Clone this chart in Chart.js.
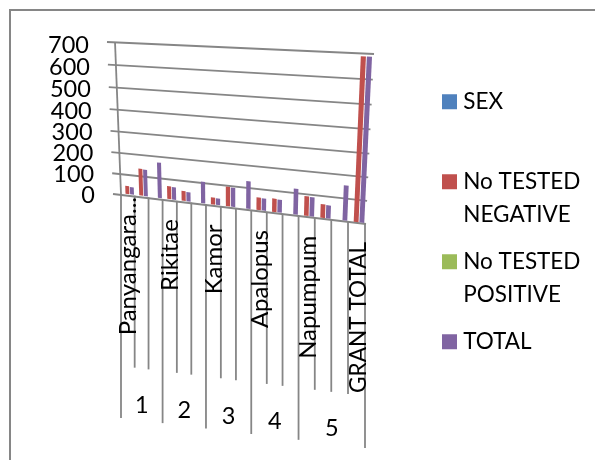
<!DOCTYPE html>
<html>
<head>
<meta charset="utf-8">
<title>Chart</title>
<script src="https://cdn.jsdelivr.net/npm/chart.js@4"></script>
<style>
  html, body { margin: 0; padding: 0; background: #fff; }
  #wrap { width: 595px; height: 460px; }
</style>
</head>
<body>
<div id="wrap"><canvas id="chart" width="595" height="460"></canvas></div>
<script>
const categories = ['Panyangara...', '', '', 'Rikitae', '', '', 'Kamor', '', '', 'Apalopus', '', '', 'Napumpum', '', '', 'GRANT TOTAL'];
const groupLabels = ['1', '2', '3', '4', '5'];
const groupSizes = [3, 3, 3, 3, 4];
const yTicks = [0, 100, 200, 300, 400, 500, 600, 700];

const sexValues = [0, 0, 0, 0, 0, 0, 0, 0, 0, 0, 0, 0, 0, 0, 0, 0];
const negativeValues = [38, 128, null, 60, 46, null, 32, 90, null, 57, 60, null, 87, 60, null, 685];
const positiveValues = [0, 0, 0, 0, 0, 0, 0, 0, 0, 0, 0, 0, 0, 0, 0, 0];
const totalValues = [35, 126, 166, 58, 43, 100, 30, 88, 125, 55, 58, 115, 85, 58, 152, 685];

const FONT = 'Lato, "Open Sans", sans-serif';
const GREY = '#868686';

// the sloped 3D wall of the reference, corners of the value plane on the page
const wall = { bl: [121, 194], br: [365, 224], tr: [373, 54], tl: [115, 42] };
const tier1 = 172;   // length of the short category ticks
const tier2 = 224;   // length of the group ticks

// unit square -> quad (projective)
function makeProjector(q) {
  const [x0, y0] = q.bl, [x1, y1] = q.br, [x2, y2] = q.tr, [x3, y3] = q.tl;
  const dx1 = x1 - x2, dx2 = x3 - x2, sx = x0 - x1 + x2 - x3;
  const dy1 = y1 - y2, dy2 = y3 - y2, sy = y0 - y1 + y2 - y3;
  const den = dx1 * dy2 - dx2 * dy1;
  const g = (sx * dy2 - dx2 * sy) / den;
  const h = (dx1 * sy - sx * dy1) / den;
  const a = x1 - x0 + g * x1, b = x3 - x0 + h * x3;
  const d = y1 - y0 + g * y1, e = y3 - y0 + h * y3;
  return (u, v) => {
    const w = g * u + h * v + 1;
    return [(a * u + b * v + x0) / w, (d * u + e * v + y0) / w];
  };
}
const project = makeProjector(wall);

const wallPlugin = {
  id: 'wall',
  afterLayout(chart) {
    const lg = chart.legend;
    lg.left = 447 - lg.options.labels.padding;
    lg.right = 595;
    lg.top = 90.5 - lg.options.labels.padding;
    lg.bottom = 460;
  },
  beforeDraw(chart) {
    // only the top and left edges of the frame are in the picture
    const ctx = chart.ctx;
    ctx.save();
    ctx.strokeStyle = GREY;
    ctx.lineWidth = 2;
    ctx.beginPath();
    ctx.moveTo(10, 460);
    ctx.lineTo(10, 10);
    ctx.lineTo(595, 10);
    ctx.stroke();
    ctx.restore();
  },
  beforeDatasetsDraw(chart) {
    const { ctx, chartArea: area, scales: { x, y } } = chart;
    const toU = px => (px - area.left) / area.width;
    const toV = py => (area.bottom - py) / area.height;
    ctx.save();
    ctx.strokeStyle = GREY;
    ctx.lineWidth = 1.8;
    ctx.fillStyle = '#000';

    // value gridlines and their labels
    ctx.font = '23.5px ' + FONT;
    ctx.textAlign = 'right';
    ctx.textBaseline = 'middle';
    y.ticks.forEach(t => {
      const v = toV(y.getPixelForValue(t.value));
      const l = project(0, v), r = project(1, v);
      ctx.beginPath();
      ctx.moveTo(l[0] - 8, l[1]);
      ctx.lineTo(r[0] + 1, r[1]);
      ctx.stroke();
      ctx.fillText(t.label, l[0] - 26, l[1] + 1 + 2 * v);
    });
    // left wall edge
    const a = project(0, 0), b = project(0, 1);
    ctx.beginPath();
    ctx.moveTo(a[0], a[1]);
    ctx.lineTo(b[0], b[1]);
    ctx.stroke();

    // category ticks hanging below the floor
    const step = area.width / categories.length;
    const boundary = i => project(toU(area.left + i * step), 0);
    const groupEnds = [0];
    groupSizes.forEach(n => groupEnds.push(groupEnds[groupEnds.length - 1] + n));
    for (let i = 0; i <= categories.length; i++) {
      const p = boundary(i);
      const len = groupEnds.includes(i) ? tier2 : tier1;
      ctx.beginPath();
      ctx.moveTo(p[0], p[1]);
      ctx.lineTo(p[0], p[1] + len);
      ctx.stroke();
    }

    // rotated category labels, text baseline on the right side of their slot
    ctx.textBaseline = 'alphabetic';
    ctx.textAlign = 'right';
    categories.forEach((label, i) => {
      if (!label) return;
      const p = boundary(i + 1), q = boundary(i);
      const gap = label.endsWith('...') ? 3 : 20;
      ctx.font = (label === label.toUpperCase() ? '22.6px ' : '24px ') + FONT;
      ctx.save();
      ctx.translate(p[0] + 1, q[1] + gap);
      ctx.rotate(-Math.PI / 2);
      ctx.fillText(label, 0, 0);
      ctx.restore();
    });

    // group numbers
    ctx.font = '23.5px ' + FONT;
    ctx.textAlign = 'center';
    ctx.textBaseline = 'middle';
    groupLabels.forEach((label, i) => {
      const l = boundary(groupEnds[i]), r = boundary(groupEnds[i + 1]);
      ctx.fillText(label, (l[0] + r[0]) / 2, (l[1] + r[1]) / 2 + 209);
    });
    ctx.restore();
  },
  beforeDatasetDraw(chart, args) {
    const { ctx, chartArea: area } = chart;
    const toU = px => (px - area.left) / area.width;
    const toV = py => (area.bottom - py) / area.height;
    const shift = 0.06 * area.width / categories.length;
    const fill = chart.data.datasets[args.index].backgroundColor;
    ctx.save();
    ctx.fillStyle = fill;
    args.meta.data.forEach(bar => {
      const p = bar.getProps(['x', 'y', 'base', 'width']);
      if (p.y == null || isNaN(p.y) || p.y === p.base) return;
      const l = toU(p.x - p.width / 2 + shift), r = toU(p.x + p.width / 2 + shift);
      const t = toV(p.y), f = 0.006;
      const c = [project(l, f), project(r, f), project(r, t + f), project(l, t + f)];
      ctx.beginPath();
      c.forEach((pt, i) => i ? ctx.lineTo(pt[0], pt[1]) : ctx.moveTo(pt[0], pt[1]));
      ctx.closePath();
      ctx.fill();
    });
    ctx.restore();
    return false; // the native flat bar is replaced by the projected one
  }
};

new Chart(document.getElementById('chart'), {
  type: 'bar',
  data: {
    labels: categories,
    datasets: [
      { label: 'SEX', data: sexValues, backgroundColor: '#4F81BD' },
      { label: 'No TESTED NEGATIVE', data: negativeValues, backgroundColor: '#C0504D' },
      { label: 'No TESTED POSITIVE', data: positiveValues, backgroundColor: '#9BBB59' },
      { label: 'TOTAL', data: totalValues, backgroundColor: '#8064A2' }
    ]
  },
  options: {
    responsive: false,
    animation: false,
    layout: { padding: { left: 100, right: 20, top: 40, bottom: 40 } },
    datasets: { bar: { categoryPercentage: 0.67, barPercentage: 1.7 } },
    scales: {
      x: { grid: { display: false }, border: { display: false }, ticks: { display: false } },
      y: {
        min: 0,
        max: 700,
        afterBuildTicks(axis) { axis.ticks = yTicks.map(value => ({ value })); },
        grid: { display: false },
        border: { display: false },
        ticks: { display: false }
      }
    },
    plugins: {
      tooltip: { enabled: false },
      legend: {
        position: 'right',
        align: 'start',
        labels: {
          // small box with a wide stroke: a 15px square, and the text sits close to it
          boxWidth: 5,
          boxHeight: 5,
          padding: 14.6,
          color: '#000',
          font: { family: FONT, size: 22.5, lineHeight: 1.453 },
          generateLabels(chart) {
            return chart.data.datasets.map((ds, i) => {
              const words = ds.label.split(' ');
              const lines = words.length > 1
                ? [words.slice(0, 2).join(' '), words.slice(2).join(' ')]
                : [ds.label, ''];
              return { text: lines, fillStyle: ds.backgroundColor, strokeStyle: ds.backgroundColor, lineWidth: 10, datasetIndex: i };
            });
          }
        }
      }
    }
  },
  plugins: [wallPlugin]
});
</script>
</body>
</html>
